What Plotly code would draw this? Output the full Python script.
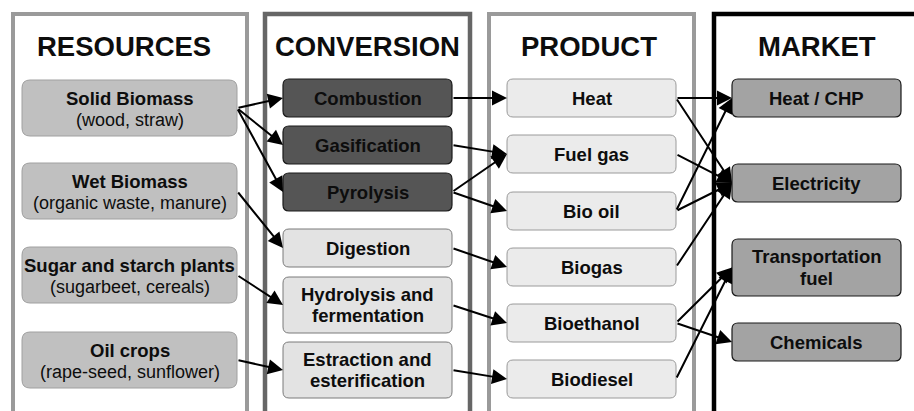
import plotly.graph_objects as go

# ---------------- data ----------------
headers = ["RESOURCES", "CONVERSION", "PRODUCT", "MARKET"]
resources = ["Solid Biomass", "Wet Biomass", "Sugar and starch plants", "Oil crops"]
resources_sub = ["(wood, straw)", "(organic waste, manure)", "(sugarbeet, cereals)", "(rape-seed, sunflower)"]
conversions = ["Combustion", "Gasification", "Pyrolysis", "Digestion",
               "Hydrolysis and<br>fermentation", "Estraction and<br>esterification"]
products = ["Heat", "Fuel gas", "Bio oil", "Biogas", "Bioethanol", "Biodiesel"]
markets = ["Heat / CHP", "Electricity", "Transportation<br>fuel", "Chemicals"]
links_res_conv = [(0, 0), (0, 1), (0, 2), (1, 3), (2, 4), (3, 5)]
links_conv_prod = [(0, 0), (1, 1), (2, 1), (2, 2), (3, 3), (4, 4), (5, 5)]
links_prod_mkt = [(0, 0), (0, 1), (1, 1), (2, 0), (2, 1), (3, 1), (4, 2), (4, 3), (5, 2)]

# ---------------- layout / style ----------------
W, H = 914, 411
FONT = "Liberation Sans, Arial, sans-serif"
LINE_GAP = 21.5

frames = [  # (x_left, x_right, color, width)
    (13, 247, "#9a9a9a", 4),
    (265, 470, "#666666", 4.5),
    (489, 694, "#9a9a9a", 4),
    (714, 930, "#000000", 4.5),
]
frame_top = 14
header_y = 46
header_x = [124, 367, 589, 817]

res_x = (22, 237)
res_tops = [80, 163, 247, 332]
res_h = 56

conv_x = (283, 452)
conv_tops = [79, 126, 173, 229, 277, 342]
conv_hs = [38, 38, 38, 38, 56, 56]
conv_dark = [True, True, True, False, False, False]

prod_x = (507, 676)
prod_tops = [79, 135, 192, 248, 304, 360]
prod_h = 38

mkt_x = (732, 901)
mkt_tops = [79, 164, 239, 323]
mkt_hs = [38, 38, 57, 38]


def rrect(x0, y0, x1, y1, r):
    return (f"M {x0+r},{y0} L {x1-r},{y0} Q {x1},{y0} {x1},{y0+r} "
            f"L {x1},{y1-r} Q {x1},{y1} {x1-r},{y1} L {x0+r},{y1} "
            f"Q {x0},{y1} {x0},{y1-r} L {x0},{y0+r} Q {x0},{y0} {x0+r},{y0} Z")


shapes = []
annotations = []


def add_box(x0, x1, y0, h, fill, line, lw, r):
    shapes.append(dict(type="path", path=rrect(x0, y0, x1, y0 + h, r),
                       fillcolor=fill, line=dict(color=line, width=lw),
                       xref="x", yref="y", layer="above"))


def add_text(x, y, text, size, bold=True, color="#0d0d0d"):
    t = f"<b>{text}</b>" if bold else text
    annotations.append(dict(x=x, y=y, text=t, showarrow=False, xref="x", yref="y",
                            font=dict(family=FONT, size=size, color=color),
                            xanchor="center", yanchor="middle"))


def add_label(x, ymid, text, size):
    lines = text.split("<br>")
    n = len(lines)
    for i, ln in enumerate(lines):
        add_text(x, ymid + (i - (n - 1) / 2) * LINE_GAP, ln, size)


# frames (open at the bottom)
for (xl, xr, col, lw) in frames:
    shapes.append(dict(type="path",
                       path=f"M {xl},{H+20} L {xl},{frame_top} L {xr},{frame_top} L {xr},{H+20}",
                       line=dict(color=col, width=lw), xref="x", yref="y", layer="below"))

# headers
for cx, hd in zip(header_x, headers):
    add_text(cx, header_y, hd, 27.5)

# resources
for name, sub, top in zip(resources, resources_sub, res_tops):
    add_box(res_x[0], res_x[1], top, res_h, "#c0c0c0", "#a0a0a0", 1, 8)
    cx = (res_x[0] + res_x[1]) / 2
    add_text(cx, top + 18, name, 18.5)
    add_text(cx, top + 40, sub, 18, bold=False)

# conversion
for name, top, h, dark in zip(conversions, conv_tops, conv_hs, conv_dark):
    if dark:
        add_box(conv_x[0], conv_x[1], top, h, "#555555", "#1a1a1a", 1.2, 6)
    else:
        add_box(conv_x[0], conv_x[1], top, h, "#e3e3e3", "#7a7a7a", 1, 6)
    add_label((conv_x[0] + conv_x[1]) / 2, top + h / 2, name, 18.5)

# products
for name, top in zip(products, prod_tops):
    add_box(prod_x[0], prod_x[1], top, prod_h, "#ebebeb", "#9a9a9a", 1, 6)
    add_label((prod_x[0] + prod_x[1]) / 2, top + prod_h / 2, name, 18.5)

# market
for name, top, h in zip(markets, mkt_tops, mkt_hs):
    add_box(mkt_x[0], mkt_x[1], top, h, "#a3a3a3", "#1a1a1a", 1.2, 6)
    add_label((mkt_x[0] + mkt_x[1]) / 2, top + h / 2, name, 18.5)


def centers(tops, hs):
    if not isinstance(hs, list):
        hs = [hs] * len(tops)
    return [t + h / 2 for t, h in zip(tops, hs)]


res_c = centers(res_tops, res_h)
conv_c = centers(conv_tops, conv_hs)
prod_c = centers(prod_tops, prod_h)
mkt_c = centers(mkt_tops, mkt_hs)


def add_arrow(x0, y0, x1, y1):
    annotations.append(dict(x=x1, y=y1, ax=x0, ay=y0, xref="x", yref="y",
                            axref="x", ayref="y", text="", showarrow=True,
                            arrowhead=2, arrowsize=1.5, arrowwidth=2,
                            arrowcolor="#000000", standoff=0, startstandoff=0))


for s, t in links_res_conv:
    add_arrow(res_x[1], res_c[s], conv_x[0], conv_c[t])
for s, t in links_conv_prod:
    add_arrow(conv_x[1], conv_c[s], prod_x[0], prod_c[t])
for s, t in links_prod_mkt:
    add_arrow(prod_x[1], prod_c[s], mkt_x[0], mkt_c[t])

fig = go.Figure()
fig.update_layout(
    width=W, height=H,
    margin=dict(l=0, r=0, t=0, b=0),
    paper_bgcolor="white", plot_bgcolor="white",
    xaxis=dict(range=[0, W], visible=False, fixedrange=True),
    yaxis=dict(range=[H, 0], visible=False, fixedrange=True),
    shapes=shapes, annotations=annotations, showlegend=False,
)
fig.write_html("out.html",
               config={"displayModeBar": False},
               post_script="document.body.style.margin='0';document.body.style.overflow='hidden';")
